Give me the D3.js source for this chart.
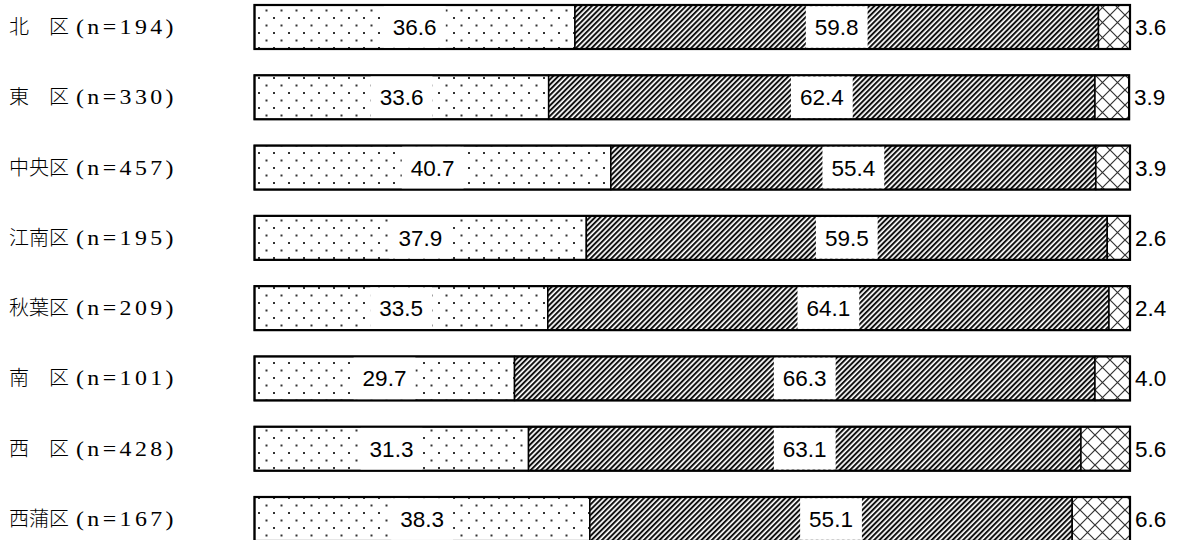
<!DOCTYPE html>
<html><head><meta charset="utf-8">
<script src="https://cdn.jsdelivr.net/npm/d3@7"></script>
<style>body{margin:0;background:#fff} svg{display:block}</style>
</head><body><svg id="c" width="1184" height="540"></svg>
<script>
const districts = ["北　区","東　区","中央区","江南区","秋葉区","南　区","西　区","西蒲区"];
const counts = [194,330,457,195,209,101,428,167];
const valuesA = [36.6,33.6,40.7,37.9,33.5,29.7,31.3,38.3];
const valuesB = [59.8,62.4,55.4,59.5,64.1,66.3,63.1,55.1];
const valuesC = [3.6,3.9,3.9,2.6,2.4,4.0,5.6,6.6];

const svg = d3.select("#c");
const x = d3.scaleLinear().domain([0,100]).range([254.5,1130]);
const y = d3.scaleBand().domain(d3.range(districts.length)).range([5,541]).paddingInner(0.374).paddingOuter(0);

const defs = svg.append("defs");
// dots
const pd = defs.append("pattern").attr("id","dots").attr("patternUnits","userSpaceOnUse")
  .attr("width",15).attr("height",15).attr("x",3).attr("y",2);
pd.append("rect").attr("width",15).attr("height",15).attr("fill","#fff");
pd.append("rect").attr("x",0).attr("y",0).attr("width",2).attr("height",2).attr("fill","#333");
pd.append("rect").attr("x",7.5).attr("y",7.5).attr("width",2).attr("height",2).attr("fill","#333");
// hatch
const ph = defs.append("pattern").attr("id","hatch").attr("patternUnits","userSpaceOnUse")
  .attr("width",3.7).attr("height",10).attr("patternTransform","rotate(45)");
ph.append("rect").attr("width",3.7).attr("height",10).attr("fill","#fff");
ph.append("rect").attr("width",2.0).attr("height",10).attr("fill","#111");
// cross
const pc = defs.append("pattern").attr("id","cross").attr("patternUnits","userSpaceOnUse")
  .attr("width",15).attr("height",15).attr("x",0).attr("y",0);
pc.append("rect").attr("width",15).attr("height",15).attr("fill","#fff");
pc.append("path").attr("d","M0,0L15,15M15,0L0,15M-1,14L1,16M14,-1L16,1").attr("stroke","#333").attr("stroke-width",1.2);

const series = [
  {vals: valuesA, fill: "url(#dots)"},
  {vals: valuesB, fill: "url(#hatch)"},
  {vals: valuesC, fill: "url(#cross)"}
];

const rows = svg.selectAll("g.row").data(districts).join("g").attr("class","row");

rows.each(function(d,i){
  const g = d3.select(this);
  const top = y(i), bh = y.bandwidth();
  let cum = 0;
  const segs = series.map(s => { const o = {x0: cum, x1: cum + s.vals[i], v: s.vals[i], fill: s.fill}; cum += s.vals[i]; return o; });
  segs.forEach(s => {
    g.append("rect").attr("x", x(s.x0)).attr("y", top).attr("width", x(s.x1)-x(s.x0)).attr("height", bh)
      .attr("fill", s.fill).attr("stroke","#000").attr("stroke-width",1.5);
  });
  g.append("rect").attr("x", x(0)).attr("y", top).attr("width", x(cum)-x(0)).attr("height", bh)
    .attr("fill","none").attr("stroke","#000").attr("stroke-width",2.2);
  // inner labels
  segs.slice(0,2).forEach(s => {
    const cx = (x(s.x0)+x(s.x1))/2;
    const bg = g.append("rect").attr("fill","#fff");
    const t = g.append("text").attr("x", cx).attr("y", top + bh/2 + 8).attr("text-anchor","middle")
      .attr("font-family","'Liberation Sans', Arial, sans-serif").attr("font-size",22.5).text(s.v.toFixed(1));
    const w = t.node().getComputedTextLength();
    bg.attr("x", cx - w/2 - 9).attr("y", top + 1.2).attr("width", w + 18).attr("height", bh - 2.4);
  });
  const last = segs[2];
  g.append("text").attr("x", x(last.x1) + 5).attr("y", top + bh/2 + 8)
    .attr("font-family","'Liberation Sans', Arial, sans-serif").attr("font-size",22.5).text(last.v.toFixed(1));
  // category labels
  g.append("text").attr("x", 9).attr("y", top + bh/2 + 7)
    .attr("font-family","'Noto Sans CJK JP', sans-serif").attr("font-size",20).attr("font-weight",300)
    .text(d);
  g.append("text").attr("x", 76).attr("y", top + bh/2 + 7)
    .attr("font-family","'Liberation Serif', 'DejaVu Serif', serif").attr("font-size",21)
    .attr("letter-spacing", 3)
    .attr("textLength", 101).attr("lengthAdjust","spacingAndGlyphs")
    .text("(n=" + counts[i] + ")");
});
</script></body></html>
